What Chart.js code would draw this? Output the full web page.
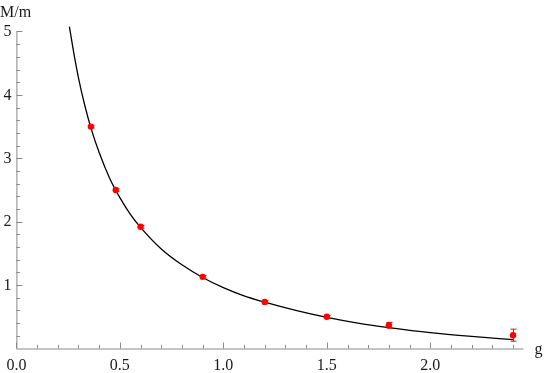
<!DOCTYPE html>
<html>
<head>
<meta charset="utf-8">
<script src="https://cdn.jsdelivr.net/npm/chart.js@4.4.1/dist/chart.umd.min.js"></script>
<style>
  html, body { margin: 0; padding: 0; background: #fff; }
  #plot { display: block; }
</style>
</head>
<body>
<canvas id="plot" width="545" height="373"></canvas>
<script>
// measured points
const gValues = [0.36, 0.48, 0.6, 0.9, 1.2, 1.5, 1.8, 2.4];
const massRatio = [3.5, 2.5, 1.92, 1.13, 0.735, 0.5, 0.367, 0.21];
const massError = [0.02, 0.02, 0.02, 0.02, 0.02, 0.02, 0.045, 0.095];

// fitted curve
const fitG = [0.256, 0.28, 0.3, 0.33, 0.36, 0.4, 0.45, 0.5, 0.55, 0.6, 0.7, 0.8, 0.9,
              1.0, 1.1, 1.2, 1.35, 1.5, 1.65, 1.8, 2.0, 2.2, 2.4];
const fitRatio = [5.08, 4.61, 4.27, 3.84, 3.48, 3.09, 2.69, 2.38, 2.12, 1.91, 1.57, 1.32, 1.12,
                  0.96, 0.83, 0.73, 0.6, 0.49, 0.4, 0.33, 0.25, 0.19, 0.14];

// axis ticks
const xTicks = [0, 0.5, 1.0, 1.5, 2.0];
const xTickLabels = ['0.0', '0.5', '1.0', '1.5', '2.0'];
const yTicks = [1, 2, 3, 4, 5];
const yTickLabels = ['1', '2', '3', '4', '5'];

const AXIS_COLOR = '#8a8a8a';
const TEXT_COLOR = '#1a1a1a';
const FONT = '16px "Liberation Serif", "DejaVu Serif", serif';

// Mathematica-style axes through the origin, ticks pointing inward
const axesPlugin = {
    id: 'mmaAxes',
    beforeDatasetsDraw(chart) {
        const ctx = chart.ctx;
        const xs = chart.scales.x;
        const ys = chart.scales.y;
        const x0 = xs.getPixelForValue(0);
        const y0 = ys.getPixelForValue(0);
        const xEnd = xs.getPixelForValue(xs.max);
        const yTop = ys.getPixelForValue(5);

        ctx.save();
        ctx.strokeStyle = AXIS_COLOR;
        ctx.lineWidth = 1;
        ctx.beginPath();
        ctx.moveTo(x0, y0 + 0.5);
        ctx.lineTo(xEnd, y0 + 0.5);
        ctx.moveTo(x0 + 0.5, y0);
        ctx.lineTo(x0 + 0.5, yTop);
        ctx.stroke();

        // x ticks (minor every 0.1)
        ctx.beginPath();
        for (let i = 0; i <= 24; i++) {
            const px = Math.round(xs.getPixelForValue(i / 10)) + 0.5;
            const len = i % 5 === 0 ? 6 : 3.5;
            ctx.moveTo(px, y0);
            ctx.lineTo(px, y0 - len);
        }
        // y ticks (minor every 0.2)
        for (let i = 1; i <= 25; i++) {
            const py = Math.round(ys.getPixelForValue(i / 5)) + 0.5;
            const len = i % 5 === 0 ? 6 : 3.5;
            ctx.moveTo(x0, py);
            ctx.lineTo(x0 + len, py);
        }
        ctx.stroke();

        ctx.fillStyle = TEXT_COLOR;
        ctx.font = FONT;
        ctx.textAlign = 'center';
        ctx.textBaseline = 'alphabetic';
        xTicks.forEach((v, i) => {
            ctx.fillText(xTickLabels[i], xs.getPixelForValue(v), y0 + 21);
        });
        ctx.textAlign = 'right';
        ctx.textBaseline = 'middle';
        yTicks.forEach((v, i) => {
            ctx.fillText(yTickLabels[i], x0 - 5, ys.getPixelForValue(v) + 0.5);
        });

        // axis names
        ctx.textAlign = 'left';
        ctx.textBaseline = 'alphabetic';
        ctx.fillText('g', xEnd + 11, y0 + 5);
        ctx.fillText('M/m', 0, 16.5);
        ctx.restore();
    }
};

// error bars on the measured points
const errorBarPlugin = {
    id: 'errorBars',
    afterDatasetsDraw(chart) {
        const ctx = chart.ctx;
        const xs = chart.scales.x;
        const ys = chart.scales.y;
        ctx.save();
        ctx.strokeStyle = '#ff0000';
        ctx.lineWidth = 1;
        ctx.beginPath();
        gValues.forEach((g, i) => {
            const px = Math.round(xs.getPixelForValue(g)) + 0.5;
            const top = ys.getPixelForValue(massRatio[i] + massError[i]);
            const bot = ys.getPixelForValue(massRatio[i] - massError[i]);
            ctx.moveTo(px, top);
            ctx.lineTo(px, bot);
            ctx.moveTo(px - 3, top);
            ctx.lineTo(px + 3, top);
            ctx.moveTo(px - 3, bot);
            ctx.lineTo(px + 3, bot);
        });
        ctx.stroke();
        ctx.restore();
    }
};

new Chart(document.getElementById('plot'), {
    type: 'scatter',
    data: {
        datasets: [
            {
                label: 'measured',
                data: gValues.map((g, i) => ({ x: g, y: massRatio[i] })),
                backgroundColor: '#ff0000',
                borderWidth: 0,
                pointRadius: 3.2,
                order: 0
            },
            {
                label: 'fit',
                data: fitG.map((g, i) => ({ x: g, y: fitRatio[i] })),
                showLine: true,
                borderColor: '#000000',
                borderWidth: 1.3,
                pointRadius: 0,
                cubicInterpolationMode: 'monotone',
                order: 1
            }
        ]
    },
    options: {
        responsive: false,
        animation: false,
        layout: { padding: { left: 16.4, right: 21.6, top: 26.4, bottom: 24.5 } },
        plugins: { legend: { display: false }, tooltip: { enabled: false } },
        scales: {
            x: { type: 'linear', min: 0, max: 2.45, display: false },
            y: { type: 'linear', min: 0, max: 5.08, display: false }
        }
    },
    plugins: [axesPlugin, errorBarPlugin]
});
</script>
</body>
</html>
